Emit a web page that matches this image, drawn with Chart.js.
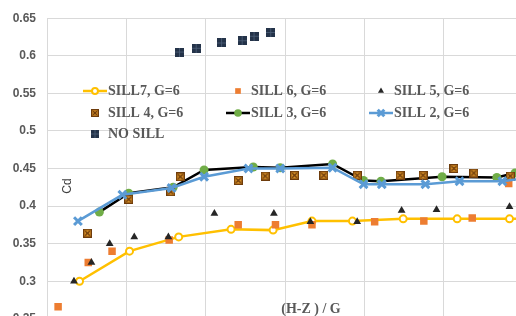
<!DOCTYPE html>
<html>
<head>
<meta charset="utf-8">
<script src="https://cdn.jsdelivr.net/npm/chart.js@4.4.1/dist/chart.umd.min.js"></script>
<style>
  html, body { margin: 0; padding: 0; overflow: hidden; background: #fff; }
  canvas { display: block; }
</style>
</head>
<body>
<canvas id="cdChart" width="540" height="337"></canvas>
<script>
// (H-Z)/G values in grid units (tick labels are cut off in the source picture)
const sill7Ratio = [0.41, 1.04, 1.66, 2.32, 2.85, 3.34, 3.85, 4.49, 5.17, 5.83, 6.3];
const sill7Cd    = [0.300, 0.340, 0.359, 0.369, 0.368, 0.380, 0.380, 0.383, 0.383, 0.383, 0.383];

const sill6Ratio = [0.14, 0.52, 0.82, 1.54, 2.41, 2.88, 3.34, 4.13, 4.75, 5.36, 5.82];
const sill6Cd    = [0.266, 0.325, 0.340, 0.355, 0.375, 0.375, 0.375, 0.379, 0.380, 0.384, 0.430];

const sill5Ratio = [0.34, 0.56, 0.79, 1.10, 1.53, 2.11, 2.86, 3.32, 3.91, 4.47, 4.91, 5.83];
const sill5Cd    = [0.300, 0.325, 0.350, 0.359, 0.359, 0.390, 0.390, 0.379, 0.379, 0.394, 0.395, 0.399];

const sill4Ratio = [0.51, 1.03, 1.56, 1.68, 2.41, 2.75, 3.12, 3.49, 3.91, 4.45, 4.74, 5.13, 5.38, 5.84];
const sill4Cd    = [0.364, 0.409, 0.419, 0.439, 0.434, 0.440, 0.441, 0.441, 0.441, 0.441, 0.441, 0.450, 0.444, 0.440];

const sill3Ratio = [0.66, 1.03, 1.59, 1.98, 2.60, 2.94, 3.60, 3.99, 4.21, 4.98, 5.67, 5.90];
const sill3Cd    = [0.392, 0.417, 0.425, 0.448, 0.452, 0.451, 0.456, 0.434, 0.433, 0.439, 0.438, 0.444];

const sill2Ratio = [0.39, 0.95, 1.57, 1.98, 2.54, 2.94, 3.60, 3.99, 4.22, 4.77, 5.20, 5.74, 6.1];
const sill2Cd    = [0.380, 0.415, 0.424, 0.439, 0.450, 0.450, 0.451, 0.429, 0.429, 0.429, 0.433, 0.433, 0.438];

const noSillRatio = [1.67, 1.88, 2.20, 2.46, 2.61, 2.82];
const noSillCd    = [0.605, 0.610, 0.617, 0.620, 0.626, 0.631];

const yTickLabels = ['0.25', '0.3', '0.35', '0.4', '0.45', '0.5', '0.55', '0.6', '0.65'];

function toPoints(xs, ys) {
    return xs.map((x, i) => ({ x: x, y: ys[i] }));
}

// square marker with a cross (SILL 4)
function boxCross(size) {
    const c = document.createElement('canvas');
    c.width = size; c.height = size;
    const g = c.getContext('2d');
    g.fillStyle = '#e49a2a';
    g.fillRect(0, 0, size, size);
    g.strokeStyle = '#6e3c0c';
    g.lineWidth = 1.4;
    g.strokeRect(0.7, 0.7, size - 1.4, size - 1.4);
    g.beginPath();
    g.moveTo(2.2, 2.2); g.lineTo(size - 2.2, size - 2.2);
    g.moveTo(size - 2.2, 2.2); g.lineTo(2.2, size - 2.2);
    g.stroke();
    return c;
}

// dark square marker (NO SILL)
function darkBox(size) {
    const c = document.createElement('canvas');
    c.width = size; c.height = size;
    const g = c.getContext('2d');
    g.fillStyle = '#243349';
    g.fillRect(0, 0, size, size);
    g.strokeStyle = '#4d5f78';
    g.lineWidth = 0.8;
    g.beginPath();
    g.moveTo(size / 2, 0); g.lineTo(size / 2, size);
    g.moveTo(0, size / 2); g.lineTo(size, size / 2);
    g.stroke();
    return c;
}

const sill4Marker = boxCross(9);
const noSillMarker = darkBox(9);
const sill4Small = boxCross(8);
const noSillSmall = darkBox(8);

const series = {
    sill7: { label: 'SILL7, G=6', line: '#ffc000', pointStyle: 'circle', radius: 3.5, fill: '#ffffff', border: '#ffc000', bw: 2 },
    sill6: { label: 'SILL 6, G=6', line: null, pointStyle: 'rect', radius: 5.3, fill: '#ed7d31', border: '#ed7d31', bw: 0 },
    sill5: { label: 'SILL 5, G=6', line: null, pointStyle: 'triangle', radius: 4.5, fill: '#262626', border: '#262626', bw: 0 },
    sill4: { label: 'SILL 4, G=6', line: null, pointStyle: sill4Marker, legendStyle: sill4Small, radius: 5, fill: '#e49a2a', border: '#6e3c0c', bw: 0 },
    sill3: { label: 'SILL 3, G=6', line: '#000000', pointStyle: 'circle', radius: 4.5, fill: '#70ad47', border: '#70ad47', bw: 0 },
    sill2: { label: 'SILL 2, G=6', line: '#5b9bd5', pointStyle: 'crossRot', radius: 5.5, fill: '#5b9bd5', border: '#5b9bd5', bw: 3 },
    noSill: { label: 'NO SILL', line: null, pointStyle: noSillMarker, legendStyle: noSillSmall, radius: 5, fill: '#243349', border: '#243349', bw: 0 }
};

function makeDataset(s, data) {
    return {
        label: s.label,
        data: data,
        showLine: !!s.line,
        borderColor: s.line || s.border,
        borderWidth: 2.5,
        pointStyle: s.pointStyle,
        pointRadius: s.radius,
        pointBackgroundColor: s.fill,
        pointBorderColor: s.border,
        pointBorderWidth: s.bw,
        tension: 0
    };
}

// legend drawn inside the plot, three columns like the source
const legendLayout = [
    { key: 'sill7', x: 83, y: 91 }, { key: 'sill6', x: 226, y: 91 }, { key: 'sill5', x: 369, y: 91 },
    { key: 'sill4', x: 83, y: 113 }, { key: 'sill3', x: 226, y: 113 }, { key: 'sill2', x: 369, y: 113 },
    { key: 'noSill', x: 83, y: 134 }
];

const overlayPlugin = {
    id: 'overlay',
    afterDraw(chart) {
        const ctx = chart.ctx;
        ctx.save();
        legendLayout.forEach(item => {
            const s = series[item.key];
            const cx = item.x + 12;
            if (s.line) {
                ctx.strokeStyle = s.line;
                ctx.lineWidth = 2.5;
                ctx.beginPath();
                ctx.moveTo(item.x, item.y);
                ctx.lineTo(item.x + 24, item.y);
                ctx.stroke();
            }
            ctx.fillStyle = s.fill;
            ctx.strokeStyle = s.border;
            ctx.lineWidth = s.bw;
            Chart.helpers.drawPoint(ctx, {
                pointStyle: s.legendStyle || s.pointStyle,
                radius: s.pointStyle === 'triangle' ? 3.5 : (s.pointStyle === 'rect' ? 4 : s.radius * 0.85),
                rotation: 0,
                borderWidth: s.bw
            }, cx, item.y);
            ctx.font = 'bold 14px "Liberation Serif"';
            ctx.fillStyle = '#595959';
            ctx.textBaseline = 'middle';
            ctx.textAlign = 'left';
            ctx.fillText(s.label, item.x + 25, item.y);
        });

        // axis titles sit inside the plot area
        ctx.font = 'bold 14px "Liberation Serif"';
        ctx.fillStyle = '#595959';
        ctx.textAlign = 'center';
        ctx.fillText('(H-Z ) / G', 311, 309);

        ctx.translate(68, 186);
        ctx.rotate(-Math.PI / 2);
        ctx.font = '12px "Liberation Sans"';
        ctx.fillStyle = '#404040';
        ctx.fillText('Cd', 0, 0);
        ctx.restore();
    }
};

const cdChart = new Chart(document.getElementById('cdChart'), {
    type: 'scatter',
    data: {
        datasets: [
            makeDataset(series.noSill, toPoints(noSillRatio, noSillCd)),
            makeDataset(series.sill2, toPoints(sill2Ratio, sill2Cd)),
            makeDataset(series.sill4, toPoints(sill4Ratio, sill4Cd)),
            makeDataset(series.sill3, toPoints(sill3Ratio, sill3Cd)),
            makeDataset(series.sill5, toPoints(sill5Ratio, sill5Cd)),
            makeDataset(series.sill6, toPoints(sill6Ratio, sill6Cd)),
            makeDataset(series.sill7, toPoints(sill7Ratio, sill7Cd))
        ]
    },
    options: {
        responsive: false,
        animation: false,
        layout: { padding: { top: 17, right: 17, bottom: 13, left: 0 } },
        plugins: {
            legend: { display: false },
            tooltip: { enabled: false }
        },
        scales: {
            x: {
                type: 'linear',
                min: 0,
                max: 6,
                ticks: { display: false, stepSize: 1 },
                grid: { color: '#d9d9d9', drawTicks: false },
                border: { display: false },
                afterFit(scale) { scale.height = 0; }
            },
            y: {
                min: 0.25,
                max: 0.65,
                ticks: {
                    stepSize: 0.05,
                    padding: 11,
                    color: '#595959',
                    font: { family: 'Liberation Sans', size: 12, weight: 'bold' },
                    callback: (val, i) => yTickLabels[i]
                },
                grid: { color: '#d9d9d9', drawTicks: false },
                border: { display: false },
                afterFit(scale) { scale.width = 47; }
            }
        }
    },
    plugins: [overlayPlugin]
});
</script>
</body>
</html>
